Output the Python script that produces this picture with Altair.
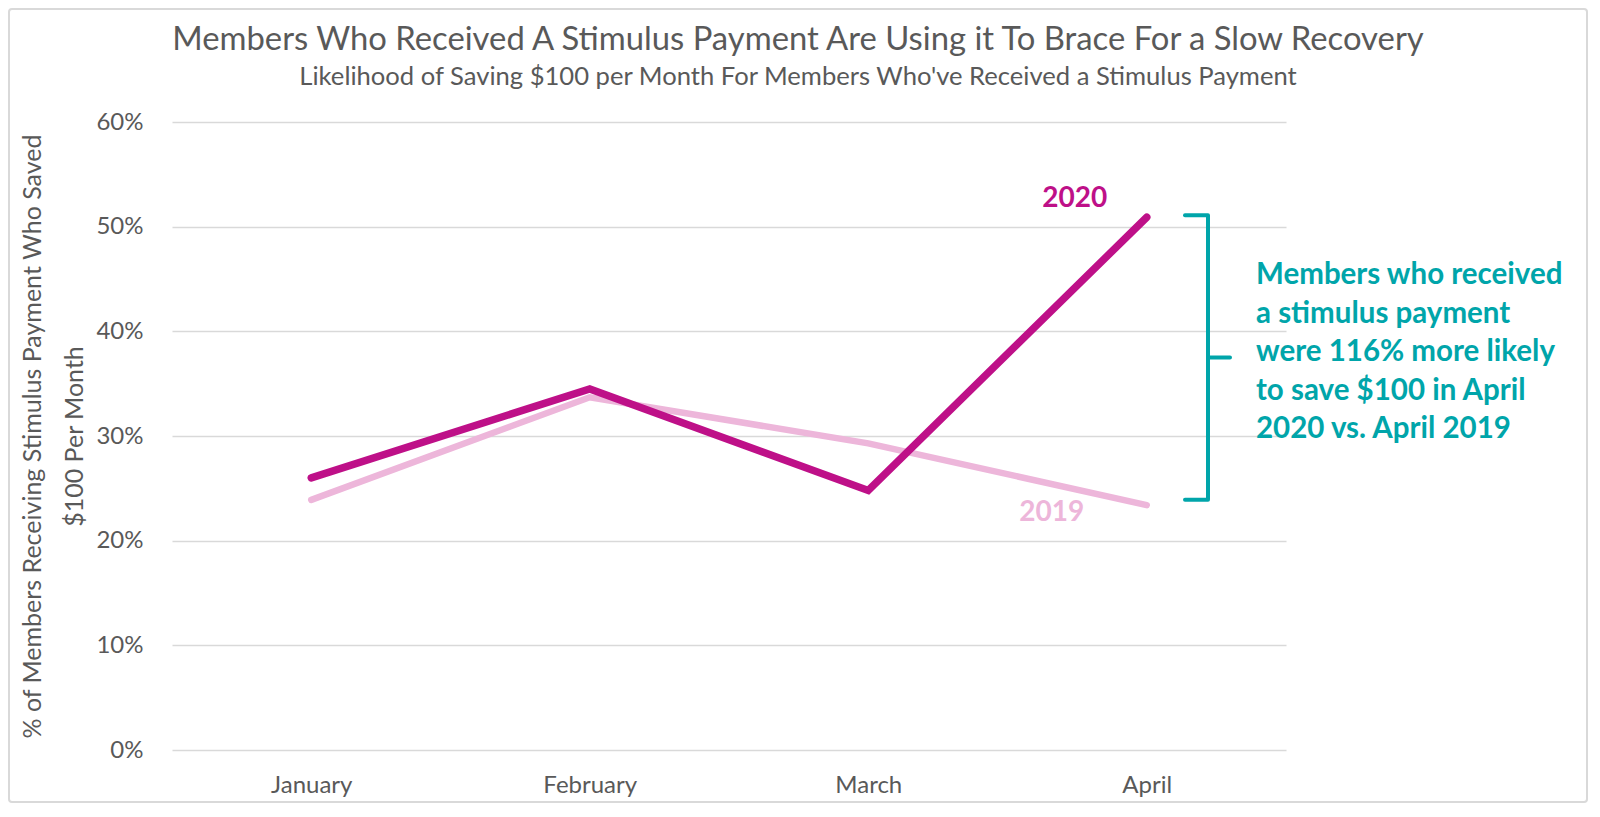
import altair as alt
import pandas as pd

# values
months = ["January", "February", "March", "April"]
saved_2020 = [0.260, 0.345, 0.248, 0.509]
saved_2019 = [0.239, 0.337, 0.293, 0.234]
brace_span = [0.511, 0.239]  # top / bottom of the teal bracket

title_text = "Members Who Received A Stimulus Payment Are Using it To Brace For a Slow Recovery"
subtitle_text = "Likelihood of Saving $100 per Month For Members Who've Received a Stimulus Payment"
y_title = ["% of Members Receiving Stimulus Payment Who Saved", "$100 Per Month"]
note_lines = ["Members who received", "a stimulus payment", "were 116% more likely",
              "to save $100 in April", "2020 vs. April 2019"]

MAGENTA = "#BE1088"
PINK = "#EDB6DA"
TEAL = "#00A5AA"
GREY = "#595959"
FONT = "Lato"

W, H = 1114, 628

data = pd.DataFrame({
    "month": months * 2,
    "year": ["2020"] * 4 + ["2019"] * 4,
    "value": saved_2020 + saved_2019,
})

x_enc = alt.X("month:N", sort=months, title=None,
              scale=alt.Scale(type="point", padding=0.5),
              axis=alt.Axis(domain=False, ticks=False, labelFontSize=24, labelColor=GREY,
                            labelFont=FONT, labelPadding=23, labelAngle=0))
y_enc = alt.Y("value:Q", title=y_title,
              scale=alt.Scale(domain=[0, 0.6], nice=False),
              axis=alt.Axis(format=".0%", values=[0, 0.1, 0.2, 0.3, 0.4, 0.5, 0.6],
                            domain=False, ticks=False, tickSize=0, labelPadding=29,
                            labelFontSize=24, labelColor=GREY, labelFont=FONT,
                            gridColor="#D9D9D9", gridWidth=1.5,
                            titleFont=FONT, titleFontSize=25, titleFontWeight="normal",
                            titleColor=GREY, titleX=-140, titleY=H / 2,
                            titleBaseline="middle", titleLineHeight=42))

base = alt.Chart(data)

line19 = base.transform_filter(alt.datum.year == "2019").mark_line(
    color=PINK, strokeWidth=6.5, strokeCap="round"
).encode(x=x_enc, y=y_enc)

line20 = base.transform_filter(alt.datum.year == "2020").mark_line(
    color=MAGENTA, strokeWidth=7.5, strokeCap="round"
).encode(x=alt.X("month:N", sort=months), y="value:Q")

lab20 = base.transform_filter(
    (alt.datum.year == "2020") & (alt.datum.month == "April")
).mark_text(font=FONT, fontSize=28, fontWeight="bold", color=MAGENTA,
            dx=-72, dy=-18, baseline="middle").encode(
    x=alt.X("month:N", sort=months), y="value:Q", text="year:N")

lab19 = base.transform_filter(
    (alt.datum.year == "2019") & (alt.datum.month == "April")
).mark_text(font=FONT, fontSize=28, fontWeight="bold", color=PINK,
            dx=-95, dy=8, baseline="middle").encode(
    x=alt.X("month:N", sort=months), y="value:Q", text="year:N")

# bracket
brace = pd.DataFrame({"top": [brace_span[0]], "bottom": [brace_span[1]],
                      "mid": [(brace_span[0] + brace_span[1]) / 2]})
b = alt.Chart(brace)
brace_v = b.mark_rule(color=TEAL, strokeWidth=4).encode(
    x=alt.value(1036), y="top:Q", y2="bottom:Q")
brace_t = b.mark_rule(color=TEAL, strokeWidth=4, strokeCap="round").encode(
    x=alt.value(1013), x2=alt.value(1036), y="top:Q")
brace_b = b.mark_rule(color=TEAL, strokeWidth=4, strokeCap="round").encode(
    x=alt.value(1013), x2=alt.value(1036), y="bottom:Q")
brace_m = b.mark_rule(color=TEAL, strokeWidth=4, strokeCap="round").encode(
    x=alt.value(1036), x2=alt.value(1058), y="mid:Q")

note = alt.Chart(pd.DataFrame({"t": [note_lines]})).mark_text(
    font=FONT, fontSize=29.5, fontWeight="bold", color=TEAL, align="left",
    baseline="alphabetic", lineHeight=38.5
).encode(x=alt.value(1084), y=alt.value(162), text="t")

title = alt.Chart(pd.DataFrame({"t": [title_text]})).mark_text(
    font=FONT, fontSize=32.8, color=GREY, align="center", baseline="alphabetic"
).encode(x=alt.value(626), y=alt.value(-72), text="t:N")

subtitle = alt.Chart(pd.DataFrame({"t": [subtitle_text]})).mark_text(
    font=FONT, fontSize=25.6, color=GREY, align="center", baseline="alphabetic"
).encode(x=alt.value(626), y=alt.value(-37), text="t:N")

frame = alt.Chart(pd.DataFrame({"f": [0]})).mark_rect(
    fill="white", fillOpacity=0, stroke="#D9D9D9", strokeWidth=2, cornerRadius=3
).encode(x=alt.value(-163), x2=alt.value(1415), y=alt.value(-113), y2=alt.value(680))

chart = alt.layer(
    frame, line19, line20, lab20, lab19,
    brace_v, brace_t, brace_b, brace_m, note, title, subtitle
).properties(
    width=W, height=H,
    background="white",
    autosize=alt.AutoSizeParams(type="none"),
    padding={"left": 164, "top": 114, "right": 302, "bottom": 53},
).configure_view(strokeWidth=0)

chart.save("out.html", embed_options={"renderer": "svg", "actions": False})
